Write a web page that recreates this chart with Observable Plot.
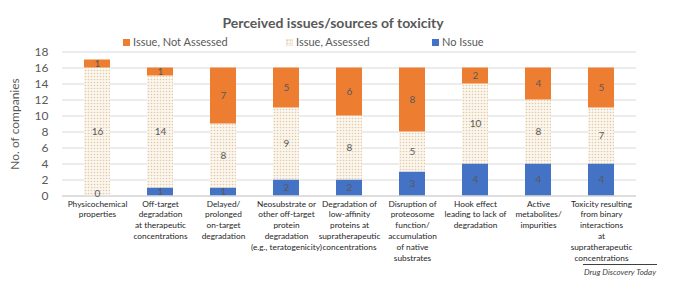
<!DOCTYPE html>
<html>
<head>
<meta charset="utf-8">
<script src="https://cdn.jsdelivr.net/npm/d3@7"></script>
<script src="https://cdn.jsdelivr.net/npm/@observablehq/plot@0.6"></script>
<style>
  html, body { margin: 0; padding: 0; background: #fff; }
  #wrap { position: relative; width: 679px; height: 286px; font-family: Lato, "Open Sans", sans-serif; overflow: hidden; }
  #wrap svg.plot { position: absolute; left: 0; top: 0; }
  .title { position: absolute; top: 14px; left: 0; width: 666px; text-align: center; font-size: 14px; font-weight: bold; color: #595959; }
  .legend { position: absolute; top: 35px; left: 0; width: 679px; height: 14px; font-size: 11px; color: #595959; }
  .legend .item { position: absolute; top: 0; white-space: nowrap; }
  .legend .sw { display: inline-block; width: 7px; height: 7px; margin-right: 3px; vertical-align: 0px; }
  .caption { position: absolute; left: 583px; top: 264px; width: 74px; border-top: 1px solid #404040; text-align: center; font-size: 8px; font-style: italic; color: #404040; padding-top: 2px; }
</style>
</head>
<body>
<div id="wrap">
  <div class="title">Perceived issues/sources of toxicity</div>
  <div class="legend" id="legend"></div>
  <div class="caption">Drug Discovery Today</div>
</div>
<script>
// Categories of perceived toxicity issues (tick labels, line breaks included)
const categories = [
  "Physicochemical\nproperties",
  "Off-target\ndegradation\nat therapeutic\nconcentrations",
  "Delayed/\nprolonged\non-target\ndegradation",
  "Neosubstrate or\nother off-target\nprotein\ndegradation\n(e.g., teratogenicity)",
  "Degradation of\nlow-affinity\nproteins at\nsupratherapeutic\nconcentrations",
  "Disruption of\nproteosome\nfunction/\naccumulation\nof native\nsubstrates",
  "Hook effect\nleading to lack of\ndegradation",
  "Active\nmetabolites/\nimpurities",
  "Toxicity resulting\nfrom binary\ninteractions\nat\nsupratherapeutic\nconcentrations"
];

// Series names, bottom to top in each stack
const series = ["No Issue", "Issue, Assessed", "Issue, Not Assessed"];

// Number of companies per category
const noIssue     = [0, 1, 1, 2, 2, 3, 4, 4, 4];
const assessed    = [16, 14, 8, 9, 8, 5, 10, 8, 7];
const notAssessed = [1, 1, 7, 5, 6, 8, 2, 4, 5];

const yTicks = [0, 2, 4, 6, 8, 10, 12, 14, 16, 18];

const seriesFill = ["#4472C4", "url(#dots)", "#ED7D31"];

// Long-format table for stacking
const values = [noIssue, assessed, notAssessed];
const rows = [];
categories.forEach((c, i) => {
  series.forEach((s, j) => rows.push({category: c, series: s, value: values[j][i]}));
});

const stackOpts = {x: "category", y: "value", z: "series", order: null};
const labelOpts = {text: d => String(d.value), fill: "#595959", fontSize: 10};

const chart = Plot.plot({
  width: 679,
  height: 286,
  marginTop: 51.5,
  marginBottom: 90.5,
  marginLeft: 62,
  marginRight: 43,
  style: {fontFamily: "Lato, 'Open Sans', sans-serif", color: "#404040", background: "transparent"},
  x: {domain: categories, paddingInner: 0.59, paddingOuter: 0.295, label: null},
  y: {domain: [0, 18], label: null},
  color: {domain: series, range: seriesFill},
  marks: [
    Plot.gridY(yTicks, {stroke: "#d9d9d9", strokeOpacity: 1}),
    Plot.barY(rows, Plot.stackY({...stackOpts, fill: "series"})),
    Plot.ruleY([0], {stroke: "#d0d0d0"}),
    // segment values; an empty segment's value sits on the baseline
    Plot.text(rows, Plot.stackY({...stackOpts, ...labelOpts, filter: d => d.value > 0})),
    Plot.text(rows, Plot.stackY({...stackOpts, ...labelOpts, filter: d => d.value === 0, dy: -2})),
    Plot.axisY({ticks: yTicks, tickSize: 0, tickPadding: 14, fontSize: 12, color: "#595959", label: "No. of companies", labelAnchor: "center", labelArrow: "none", labelOffset: 52}),
    Plot.axisX({tickSize: 0, tickPadding: 3, fontSize: 8.3, lineHeight: 1.3, color: "#262626", label: null})
  ]
});

// Dotted fill used by the "Issue, Assessed" segments
const defs = d3.select(chart).insert("defs", ":first-child");
const pat = defs.append("pattern").attr("id", "dots").attr("patternUnits", "userSpaceOnUse")
  .attr("width", 3).attr("height", 3);
pat.append("rect").attr("width", 3).attr("height", 3).attr("fill", "#fbf6ee");
pat.append("circle").attr("cx", 1.5).attr("cy", 1.5).attr("r", 0.8).attr("fill", "#e2c9a8");

chart.classList.add("plot");
document.getElementById("wrap").prepend(chart);

// Legend
const legendItems = [
  {label: "Issue, Not Assessed", x: 123, fill: "#ED7D31"},
  {label: "Issue, Assessed", x: 286, fill: null},
  {label: "No Issue", x: 432, fill: "#4472C4"}
];
const legend = document.getElementById("legend");
legendItems.forEach(it => {
  const el = document.createElement("span");
  el.className = "item";
  el.style.left = it.x + "px";
  const sw = it.fill
    ? `<span class="sw" style="background:${it.fill}"></span>`
    : `<svg class="sw" width="7" height="7" style="vertical-align:0px"><rect width="7" height="7" fill="url(#dots)" stroke="#e3ceb3" stroke-width="0.6"/></svg>`;
  el.innerHTML = sw + it.label;
  legend.appendChild(el);
});
</script>
</body>
</html>
